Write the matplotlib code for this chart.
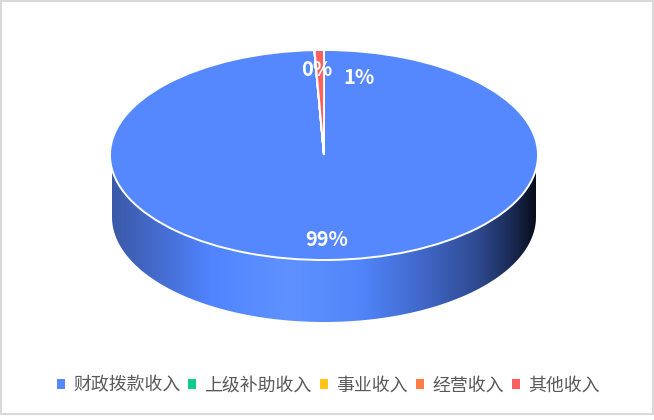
import numpy as np
import matplotlib
matplotlib.use("Agg")
import matplotlib.pyplot as plt
from matplotlib.colors import LinearSegmentedColormap
from matplotlib.patches import Patch, Polygon, Rectangle

plt.rcParams['font.family'] = ['Noto Sans CJK SC', 'DejaVu Sans']

categories = ['财政拨款收入', '上级补助收入', '事业收入', '经营收入', '其他收入']
shares = [99.28, 0.0, 0.0, 0.02, 0.7]
colors = ['#5588ff', '#14cc8c', '#ffc414', '#ff7d45', '#ff5f5f']
pct_labels = ['99%', '0%', '1%']

# shading of the pie side, left to right
side_stops = [0.0, 0.09, 0.23, 0.42, 0.59, 0.74, 0.86, 0.94, 1.0]
side_colors = ['#3a5aa8', '#4368c8', '#5084ff', '#5f92ff', '#5084f8',
               '#3f65c4', '#2f4a90', '#1a2a55', '#080c18']

W, H = 654, 420


def px_rect(left, top, right, bottom):
    """Figure rectangle from pixel edges (origin top left)"""
    return [left / W, 1 - bottom / H, (right - left) / W, (bottom - top) / H]


fig = plt.figure(figsize=(W / 100, H / 100), dpi=100, facecolor='white')

# frame round the chart
fig.add_artist(Rectangle((1 / W, 1 - 414 / H), 652 / W, 413 / H, transform=fig.transFigure,
                         fill=False, edgecolor='#d9d9d9', linewidth=1.5))

# side of the pie, in pixel coordinates
side_ax = fig.add_axes([0, 0, 1, 1])
side_ax.set_xlim(0, W)
side_ax.set_ylim(H, 0)
side_ax.axis('off')
cmap = LinearSegmentedColormap.from_list('side', list(zip(side_stops, side_colors)))
grad = side_ax.imshow(np.linspace(0, 1, 512).reshape(1, -1), cmap=cmap, aspect='auto',
                      extent=[112, 538, 325, 150], zorder=1)
side_ax.set_xlim(0, W)
side_ax.set_ylim(H, 0)
t = np.linspace(np.pi, 0, 200)
lower = np.column_stack([324 + 212 * np.cos(t), 217 + 105 * np.sin(t)])
outline = np.vstack([[[112, 155]], lower, [[536, 155]]])
clip = Polygon(outline, closed=True, transform=side_ax.transData)
grad.set_clip_path(clip)

# top face
pie_ax = fig.add_axes(px_rect(110, 50, 538, 260))
pie_ax.pie(shares, colors=colors, startangle=90, counterclock=False, radius=1,
           wedgeprops={'edgecolor': 'white', 'linewidth': 1.4, 'clip_on': False})
pie_ax.set_aspect('auto')
pie_ax.set_xlim(-1, 1)
pie_ax.set_ylim(-1, 1)

for label, x, y in zip(pct_labels, [327, 317, 359], [239, 69, 78]):
    fig.text(x / W, 1 - y / H, label, color='white', fontsize=14.5, fontweight='bold',
             ha='center', va='center')

handles = [Patch(facecolor=c, edgecolor='none') for c in colors]
fig.legend(handles, categories, ncol=5, loc='center', bbox_to_anchor=(328 / W, 1 - 385.5 / H),
           frameon=False, fontsize=12.9, labelcolor='#595959', handlelength=0.45,
           handleheight=0.45, handletextpad=0.46, columnspacing=0.45, borderpad=0)

fig.savefig('out.png', dpi=100)
